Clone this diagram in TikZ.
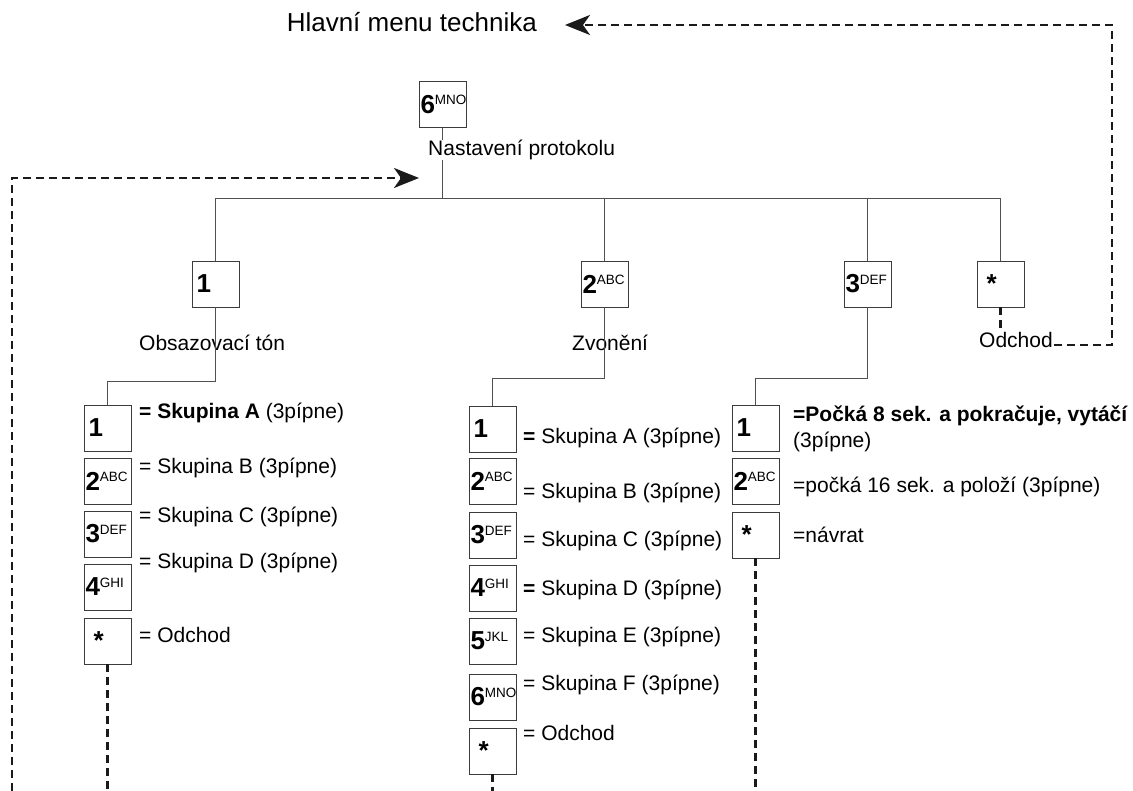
\documentclass[tikz,border=0pt]{standalone}
\usepackage{fontspec}
\setmainfont{Liberation Sans}
\usetikzlibrary{arrows.meta}

\definecolor{linka}{HTML}{505050}
\definecolor{ramec}{HTML}{3C3C3C}
\definecolor{carky}{HTML}{1A1A1A}

% klavesa: cislice + male pismena nahore
\newcommand{\klav}[2]{{\fontsize{26}{26}\selectfont\bfseries #1}\raisebox{8.5pt}{\fontsize{13.5}{13.5}\selectfont #2}}
\newcommand{\hvezda}{\hspace*{8pt}{\fontsize{26}{26}\selectfont\bfseries *}}

\tikzset{
  klavesa/.style={draw=ramec, line width=0.9pt, fill=white, text width=44pt,
    inner xsep=1.5pt, inner ysep=0pt, minimum height=46pt, align=left},
  popis/.style={anchor=west, inner sep=0pt, font=\fontsize{21}{26}\selectfont},
  spoj/.style={draw=linka, line width=0.9pt},
  zpet/.style={draw=carky, line width=2.4pt, dash pattern=on 8pt off 5pt},
  zpetsipka/.style={zpet, -{Stealth[length=25pt,width=20pt,inset=7pt]}},
}

\begin{document}
\begin{tikzpicture}[x=1pt,y=-1pt]
\useasboundingbox (0,0) rectangle (1133,791);
\coordinate (dno) at (0,791);

% hlavni menu a protokol
\node[anchor=base east, inner sep=0pt, font=\fontsize{26}{30}\selectfont] (hlavni) at (537,32) {Hlavní menu technika};
\node[klavesa] (menu) at (442.5,104.5) {\klav{6}{MNO}};
\coordinate (rozv) at (442.5,198);
\draw[spoj] (menu) -- (rozv);
\node[popis, fill=white] (nast) at (428,150) {Nastavení protokolu};

% druha uroven
\node[klavesa] (k1) at (215.5,284) {\hspace*{3pt}\klav{1}{}};
\node[klavesa] (k2) at (604.5,284) {\klav{2}{ABC}};
\node[klavesa] (k3) at (867.5,284) {\klav{3}{DEF}};
\node[klavesa] (k4) at (1000.5,284) {\hvezda};
\foreach \k in {k1,k2,k3,k4}
  \draw[spoj] (rozv) -| (\k);

\node[popis] (obsT) at (139,343) {Obsazovací tón};
\node[popis] (zvoT) at (572,343) {Zvonění};

% obsazovaci ton
\foreach \n/\y/\txt in {1/428/{\hspace*{3pt}\klav{1}{}}, 2/481/{\klav{2}{ABC}}, 3/534/{\klav{3}{DEF}},
    4/587/{\klav{4}{GHI}}, 5/641/{\hvezda}}
  \node[klavesa] (obs\n) at (107.5,\y) {\txt};
\coordinate (obsR) at (215.5,381);
\draw[spoj] (k1) -- (obsR) -| (obs1);
\foreach \n/\y/\txt in {1/413/{\textbf{= Skupina A} (3pípne)}, 2/468/{= Skupina B (3pípne)},
    3/517/{= Skupina C (3pípne)}, 4/563/{= Skupina D (3pípne)}, 5/635/{= Odchod}}
  \node[popis] (obsP\n) at (139,\y) {\txt};

% zvoneni
\foreach \n/\y/\txt in {1/429/{\hspace*{3pt}\klav{1}{}}, 2/481/{\klav{2}{ABC}}, 3/535/{\klav{3}{DEF}},
    4/588/{\klav{4}{GHI}}, 5/641/{\klav{5}{JKL}}, 6/697/{\klav{6}{MNO}}, 7/751/{\hvezda}}
  \node[klavesa] (zvo\n) at (492.5,\y) {\txt};
\coordinate (zvoR) at (604.5,378);
\draw[spoj] (k2) -- (zvoR) -| (zvo1);
\foreach \n/\y/\txt in {1/438/{\textbf{=} Skupina A (3pípne)}, 2/493/{= Skupina B (3pípne)},
    3/541/{= Skupina C (3pípne)}, 4/590/{\textbf{=} Skupina D (3pípne)},
    5/637/{= Skupina E (3pípne)}, 6/685/{= Skupina F (3pípne)}, 7/733/{= Odchod}}
  \node[popis] (zvoP\n) at (523,\y) {\txt};

% protokol - cekani
\foreach \n/\y/\txt in {1/428/{\hspace*{3pt}\klav{1}{}}, 2/481/{\klav{2}{ABC}}, 3/535/{\hvezda}}
  \node[klavesa] (pro\n) at (755.5,\y) {\txt};
\coordinate (proR) at (867.5,378);
\draw[spoj] (k3) -- (proR) -| (pro1);
\node[popis, anchor=north west, align=left] (proP1) at (793,406)
  {\textbf{=Počká 8 sek. a pokračuje, vytáčí}\\(3pípne)};
\node[popis] (proP2) at (793,487) {=počká 16 sek. a položí (3pípne)};
\node[popis] (proP3) at (793,535) {=návrat};

% navraty
\draw[zpet] (obs5) -- (obs5 |- dno);
\draw[zpet] (zvo7) -- (zvo7 |- dno);
\draw[zpet] (pro3) -- (pro3 |- dno);
\coordinate (levyroh) at (12,791);
\coordinate (navrat) at (419,178);
\draw[zpetsipka] (levyroh) |- (navrat);
\coordinate (pravyroh) at (1112,345);
\coordinate (cil) at (565,25);
\draw[zpetsipka] (k4) |- (pravyroh) |- (cil);
\node[popis, fill=white] (odchT) at (979,340) {Odchod};
\end{tikzpicture}
\end{document}
